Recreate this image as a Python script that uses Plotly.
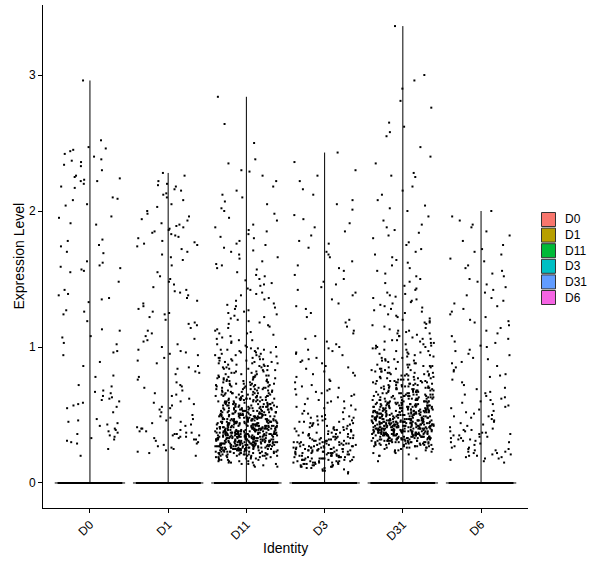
import math
import plotly.graph_objects as go

# ---------------- data ----------------
identities = ["D0", "D1", "D11", "D3", "D31", "D6"]
colors = ["#F8766D", "#B79F00", "#00BA38", "#00BFC4", "#619CFF", "#F564E3"]
y_ticks = [0, 1, 2, 3]


def parse(s):
    return [int(t) / 100 for t in s.split()]


d0_expr = parse("""
296 252 247 246 245 244 242 240 238 237 236 234 233 230 226 225 224 223 222 222
220 218 217 210 209 208 205 204 196 195 191 190 179 178 175 174 170 169 163 162
160 159 158 157 156 155 148 142 139 138 136 135 133 127 126 124 119 113 112 108
107 103 102 97 96 94 89 86 79 78 72 71 68 67 66 64 63 62 61 60 59 58 57 56 55 52
47 46 45 44 43 42 40 39 38 37 36 35 34 33 32 31 30 29 25 20
""")

d1_expr = parse("""
228 226 222 220 219 218 216 215 213 212 210 208 205 203 200 198 196 194 193 191
190 189 188 187 186 185 184 183 182 181 180 178 177 176 175 174 172 170 168 166
164 160 155 152 150 148 146 144 142 141 140 138 136 134 132 130 128 126 125 124
122 120 118 117 116 114 112 110 108 106 105 104 102 100 98 97 96 95 94 92 90 88
86 85 84 82 81 80 78 76 74 72 71 70 68 66 65 64 62 60 59 58 57 56 55 54 52 50
49 48 47 46 45 44 43 42 41 40 40 39 38 38 37 37 36 36 35 35 34 34 33 33 32 32
31 30 29 28 27 26 25 24 23 22 20
""")

d11_expr = parse("""
12 12 13 13 14 14 14 15 15 15 16 16 16 16 17 17 17 17 18 18 18 18 18 19 19 19 19 19 19
20 20 20 20 20 20 20 20 21 21 21 21 21 21 21 21 21 22 22 22 22 22 22 22 22 22 22
23 23 23 23 23 23 23 23 23 23 23 24 24 24 24 24 24 24 24 24 24 24 24
25 25 25 25 25 25 25 25 25 25 25 25 25 26 26 26 26 26 26 26 26 26 26 26 26 26 26
27 27 27 27 27 27 27 27 27 27 27 27 27 27 28 28 28 28 28 28 28 28 28 28 28 28 28 28 28
29 29 29 29 29 29 29 29 29 29 29 29 29 29 29
30 30 30 30 30 30 30 30 30 30 30 30 30 30 30 30 31 31 31 31 31 31 31 31 31 31 31 31 31 31 31 31
32 32 32 32 32 32 32 32 32 32 32 32 32 32 32 32 33 33 33 33 33 33 33 33 33 33 33 33 33 33 33 33
34 34 34 34 34 34 34 34 34 34 34 34 34 34 34 34 35 35 35 35 35 35 35 35 35 35 35 35 35 35 35 35
36 36 36 36 36 36 36 36 36 36 36 36 36 36 36 36 37 37 37 37 37 37 37 37 37 37 37 37 37 37 37 37
38 38 38 38 38 38 38 38 38 38 38 38 38 38 38 38 39 39 39 39 39 39 39 39 39 39 39 39 39 39 39 39
40 40 40 40 40 40 40 40 40 40 40 40 40 40 40 41 41 41 41 41 41 41 41 41 41 41 41 41 41 41
42 42 42 42 42 42 42 42 42 42 42 42 42 42 43 43 43 43 43 43 43 43 43 43 43 43 43 43
44 44 44 44 44 44 44 44 44 44 44 44 44 45 45 45 45 45 45 45 45 45 45 45 45 45
46 46 46 46 46 46 46 46 46 46 46 46 47 47 47 47 47 47 47 47 47 47 47 47
48 48 48 48 48 48 48 48 48 48 48 49 49 49 49 49 49 49 49 49 49 49
50 50 50 50 50 50 50 50 50 50 50 51 51 51 51 51 51 51 51 51 51 52 52 52 52 52 52 52 52 52 52
53 53 53 53 53 53 53 53 53 54 54 54 54 54 54 54 54 54 55 55 55 55 55 55 55 55 55
56 56 56 56 56 56 56 56 57 57 57 57 57 57 57 57 58 58 58 58 58 58 58 58 59 59 59 59 59 59 59
60 60 60 60 60 60 60 61 61 61 61 61 61 61 62 62 62 62 62 62 62 63 63 63 63 63 63
64 64 64 64 64 64 65 65 65 65 65 65 66 66 66 66 66 66 67 67 67 67 67 68 68 68 68 68 69 69 69 69 69
70 70 70 70 70 71 71 71 71 71 72 72 72 72 72 73 73 73 73 73 74 74 74 74 75 75 75 75
76 76 76 76 77 77 77 77 78 78 78 78 79 79 79 79
80 80 80 81 81 81 82 82 82 83 83 83 84 84 84 85 85 85 86 86 86 87 87 87 88 88 88 89 89 89
90 90 90 91 91 91 92 92 92 93 93 94 94 94 95 95 96 96 96 97 97 98 98 98 99 99
284 264 250 238 235 230 229 226 222 218 215 212 210 207 205 202 200 198 195 193
190 188 186 185 183 181 180 178 176 175 173 171 170 168 166 165 163 161 160 158
157 155 153 152 150 149 147 146 145 143 142 140 139 138 136 135 134 132 131 130
129 128 127 126 125 124 123 122 121 120 119 118 117 116 115 114 113 112 111 110
110 109 108 107 106 105 105 104 103 102 101 100 100
""")

d3_expr = parse("""
7 8 9 9 10 10 11 11 11 12 12 12 12 13 13 13 13 14 14 14 14 14 15 15 15 15 15
16 16 16 16 16 16 17 17 17 17 17 17 18 18 18 18 18 18 19 19 19 19 19 19 19 13 15 17
20 20 20 20 20 20 21 21 21 21 21 21 22 22 22 22 22 22 22 23 23 23 23 23 23 23
24 24 24 24 24 24 24 25 25 25 25 25 25 25 26 26 26 26 26 26 26 27 27 27 27 27 27
28 28 28 28 28 28 29 29 29 29 29 29
30 30 30 30 30 30 31 31 31 31 31 32 32 32 32 32 33 33 33 33 33 34 34 34 34
35 35 35 35 36 36 36 36 37 37 37 37 38 38 38 38 39 39 39 39
40 40 40 41 41 41 42 42 42 43 43 43 44 44 44 45 45 45 46 46 46 47 47 48 48 49 49 49
50 51 51 52 53 54 55 55 56 57 58 59 60 60 61 62 63 64 65 65 66 67 68 69 69
70 71 72 74 75 76 78 79 80 81 82 84 85 86 88 89 90 91 92 94 95 96 97 98 99
100 102 104 106 108 110 112 115 118 120 122 125 128 130 132 135 138 140 142 144 146 148
150 153 156 158 160 163 166 168 170 173 176 178 182 185 188 191 194 197
201 205 208 212 216 222 226 230 236 243
""")

d31_expr = parse("""
16 18 20 20 21 22 22 23 23 24 24 24 25 25 25
26 26 26 26 26 27 27 27 27 27 27 28 28 28 28 28 28 28 29 29 29 29 29 29 29 29
30 30 30 30 30 30 30 30 30 30 31 31 31 31 31 31 31 31 31 31 31
32 32 32 32 32 32 32 32 32 32 32 32 33 33 33 33 33 33 33 33 33 33 33 33 33
34 34 34 34 34 34 34 34 34 34 34 34 34 34 35 35 35 35 35 35 35 35 35 35 35 35 35 35
36 36 36 36 36 36 36 36 36 36 36 36 36 36 36 37 37 37 37 37 37 37 37 37 37 37 37 37 37 37
38 38 38 38 38 38 38 38 38 38 38 38 38 38 38 38 39 39 39 39 39 39 39 39 39 39 39 39 39 39 39 39
40 40 40 40 40 40 40 40 40 40 40 40 40 40 40 40 41 41 41 41 41 41 41 41 41 41 41 41 41 41 41 41
42 42 42 42 42 42 42 42 42 42 42 42 42 42 42 42 43 43 43 43 43 43 43 43 43 43 43 43 43 43 43 43
44 44 44 44 44 44 44 44 44 44 44 44 44 44 44 44 45 45 45 45 45 45 45 45 45 45 45 45 45 45 45 45
46 46 46 46 46 46 46 46 46 46 46 46 46 46 46 47 47 47 47 47 47 47 47 47 47 47 47 47 47
48 48 48 48 48 48 48 48 48 48 48 48 48 48 49 49 49 49 49 49 49 49 49 49 49 49 49
50 50 50 50 50 50 50 50 50 50 50 50 50 51 51 51 51 51 51 51 51 51 51 51 51
52 52 52 52 52 52 52 52 52 52 52 52 53 53 53 53 53 53 53 53 53 53 53 53
54 54 54 54 54 54 54 54 54 54 54 55 55 55 55 55 55 55 55 55 55 55
56 56 56 56 56 56 56 56 56 56 57 57 57 57 57 57 57 57 57 57
58 58 58 58 58 58 58 58 58 59 59 59 59 59 59 59 59 59
60 60 60 60 60 60 60 60 61 61 61 61 61 61 61 61 62 62 62 62 62 62 62 62
63 63 63 63 63 63 63 64 64 64 64 64 64 64 65 65 65 65 65 65 65
66 66 66 66 66 66 67 67 67 67 67 67 68 68 68 68 68 68 69 69 69 69 69 69
70 70 70 70 70 70 71 71 71 71 71 71 72 72 72 72 72 73 73 73 73 73 74 74 74 74 74
75 75 75 75 75 76 76 76 76 76 77 77 77 77 78 78 78 78 79 79 79 79
80 80 80 80 81 81 81 81 82 82 82 82 83 83 83 84 84 84 85 85 85 86 86 86 87 87 87 88 88 89 89
90 90 90 91 91 92 92 93 93 94 94 95 95 96 96 97 97 98 98 99 99
336 300 296 290 281 276 265 262 258 255 247 240 235 228 226 225 218 215 212 208
204 202 200 196 193 190 188 186 184 182 180 177 175 172 170 168 166 164 162 160
158 156 154 152 150 148 147 145 143 142 140 139 138 137 136 135 134 133 132 131
130 129 128 127 126 125 124 123 122 121 120 119 118 118 117 116 115 114 113 112
112 111 110 110 109 108 108 107 106 106 105 105 104 104 103 103 102 102 101 101 100 100
""")

d6_expr = parse("""
15 16 17 18 18 19 19 20 20 21 21 22 22 23 23 24 24 25 25 26 26 27 28 29 30
30 31 31 32 32 33 33 34 34 35 35 36 36 37 37 38 38 39 39 40 41 42 43 44 45 46 47 48 49 49
50 51 52 53 54 55 56 57 58 59 60 61 62 63 64 65 66 67 69 70 72 74 76 78 79
80 82 83 85 86 88 89 91 92 94 95 97 98 100 101 103 104 106 108 110 112 114 116 118 119
120 122 124 126 128 130 132 134 136 138 140 142 144 146 148 150 152 154 156 158
160 163 165 168 170 172 175 178 182 185 188 190 193 196 200
""")

expr_by_group = [d0_expr, d1_expr, d11_expr, d3_expr, d31_expr, d6_expr]
zero_counts = [900, 1000, 700, 900, 600, 900]

# ---------------- geometry / style ----------------
W, H = 600, 568
PL, PR, PT, PB = 43, 528, 5, 508
FONT = "Liberation Sans, Arial, sans-serif"
JIT = 0.4
VW = 0.45


def _mix(z):
    # deterministic integer hash (splitmix64 finaliser) used only for jitter offsets
    z = (z + 0x9E3779B97F4A7C15) & 0xFFFFFFFFFFFFFFFF
    z = ((z ^ (z >> 30)) * 0xBF58476D1CE4E5B9) & 0xFFFFFFFFFFFFFFFF
    z = ((z ^ (z >> 27)) * 0x94D049BB133111EB) & 0xFFFFFFFFFFFFFFFF
    return z ^ (z >> 31)


def jitter(k, g):
    u = _mix(k * 131 + g * 1000003 + 7) / 2.0 ** 64
    return (u - 0.5) * 2 * JIT


fig = go.Figure()

for g, name in enumerate(identities):
    vals = expr_by_group[g]
    vmax = max(vals)
    # violin outline (collapsed: most cells are zero)
    fig.add_trace(go.Scatter(
        x=[g - VW, g + VW, None, g, g],
        y=[0, 0, None, 0, vmax],
        mode="lines", line=dict(color="black", width=1),
        hoverinfo="skip", showlegend=False))
    xs, ys = [], []
    for k in range(zero_counts[g]):
        xs.append(g + jitter(k + 50000, g))
        ys.append(0.0)
    for k, v in enumerate(vals):
        xs.append(g + jitter(k, g))
        ys.append(v)
    fig.add_trace(go.Scatter(
        x=xs, y=ys, mode="markers", name=name,
        marker=dict(color="black", size=2, symbol="square", line=dict(width=0)),
        showlegend=False))

pw = PR - PL
ph = PB - PT


def px_x(x):
    return (x - PL) / pw


def px_y(y):
    return (PB - y) / ph


shapes = []
annotations = []
leg_top = 212.5
leg_step = 15.6
sq = 14
for i, (name, col) in enumerate(zip(identities, colors)):
    y0 = leg_top + i * leg_step
    shapes.append(dict(type="rect", xref="paper", yref="paper",
                       x0=px_x(541.5), x1=px_x(541.5 + sq),
                       y0=px_y(y0 + sq), y1=px_y(y0),
                       fillcolor=col, line=dict(color="#333333", width=1)))
    annotations.append(dict(xref="paper", yref="paper", x=px_x(563), y=px_y(y0 + sq / 2),
                            xanchor="left", yanchor="middle", showarrow=False,
                            text=name, font=dict(family=FONT, size=12, color="black")))

annotations.append(dict(xref="paper", yref="paper", x=px_x(18), y=px_y((PT + PB) / 2),
                        xanchor="center", yanchor="middle", showarrow=False, textangle=-90,
                        text="Expression Level", font=dict(family=FONT, size=14, color="black")))
annotations.append(dict(xref="paper", yref="paper", x=px_x(285), y=px_y(548),
                        xanchor="center", yanchor="middle", showarrow=False,
                        text="Identity", font=dict(family=FONT, size=14, color="black")))

fig.update_layout(
    width=W, height=H,
    margin=dict(l=PL, r=W - PR, t=PT, b=H - PB, pad=0),
    paper_bgcolor="white", plot_bgcolor="white",
    showlegend=False,
    shapes=shapes, annotations=annotations,
    xaxis=dict(range=[-0.6, len(identities) - 0.4], tickvals=list(range(len(identities))),
               ticktext=identities, tickangle=-45, ticks="outside", ticklen=4,
               tickcolor="black", showline=True, linecolor="black", linewidth=1,
               showgrid=False, zeroline=False,
               tickfont=dict(family=FONT, size=12, color="black")),
    yaxis=dict(range=[-0.184, 3.515], tickvals=y_ticks, ticks="outside", ticklen=4,
               tickcolor="black", showline=True, linecolor="black", linewidth=1,
               showgrid=False, zeroline=False,
               tickfont=dict(family=FONT, size=12, color="black")),
)

fig.write_html("out.html")
